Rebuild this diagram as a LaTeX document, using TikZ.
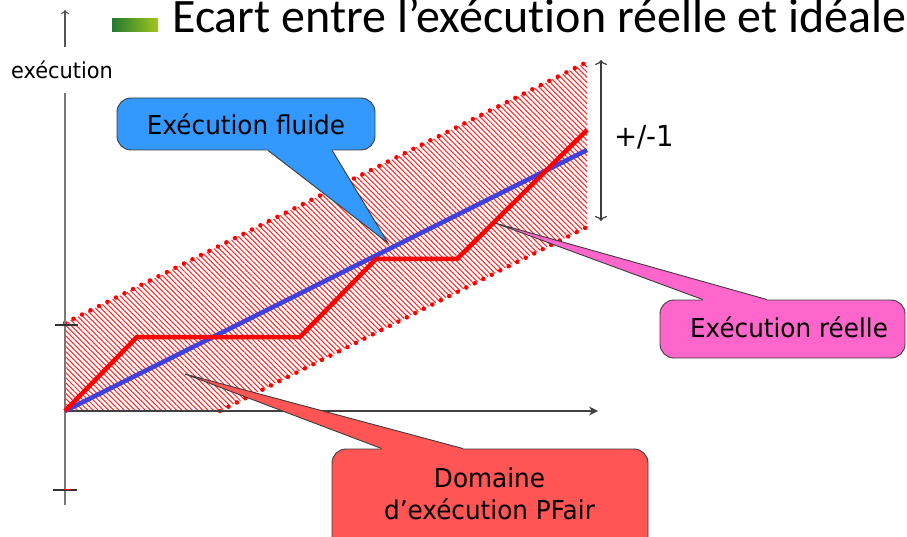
\documentclass[tikz,border=0pt]{standalone}
\usepackage{fontspec}
\setmainfont{Carlito}[Ligatures={NoCommon}]
\newfontfamily\tah[FakeStretch=0.95]{DejaVu Sans}
\usetikzlibrary{patterns.meta,arrows.meta,calc}

\definecolor{barDark}{RGB}{34,122,48}
\definecolor{barLight}{RGB}{160,198,30}
\definecolor{calloutBlue}{RGB}{51,153,255}
\definecolor{calloutPink}{RGB}{255,102,204}
\definecolor{calloutRed}{RGB}{255,85,85}
\definecolor{idealBlue}{RGB}{64,64,220}
\definecolor{edgeGray}{RGB}{60,60,60}
\definecolor{axisGray}{RGB}{120,120,120}
\definecolor{hatchRed}{RGB}{255,40,40}

\tikzset{
  calloutbox/.style={draw=edgeGray, line width=0.9pt, rounded corners=14pt,
                     inner sep=0pt, font=\tah\fontsize{26}{30}\selectfont},
  wedgeedge/.style={draw=edgeGray, line width=0.9pt, line join=miter},
  dotline/.style={draw=red, line width=4.5pt, line cap=round,
                  dash pattern=on 0pt off 9.5pt},
  labeltext/.style={inner sep=0pt, anchor=base, font=\tah\fontsize{26}{30}\selectfont},
}

\begin{document}
\begin{tikzpicture}[x=1pt,y=-1pt]
\useasboundingbox (0,0) rectangle (907,537);
\clip (0,0) rectangle (907,537);

% heading with its gradient bullet
\shade[left color=barDark, right color=barLight] (112,19) rectangle (158,32);
\node[anchor=base west, inner sep=0pt, font=\fontsize{48}{52}\selectfont]
  (title) at (172,33) {Ecart entre l’exécution réelle et idéale};

% PFair domain: hatched band around the ideal line
\fill[pattern={Lines[angle=-45,distance=3.7pt,line width=1.05pt]}, pattern color=hatchRed]
  (65,411) -- (65,323) -- (587,62) -- (587,227) -- (220,411) -- cycle;
\draw[dotline] (65,323) -- (587,62);
\draw[dotline] (220,411) -- (587,227);
\draw[red, line width=1pt, dash pattern=on 1.5pt off 2pt] (65,411) -- (220,411);

% vertical axis
\node[inner sep=0pt, anchor=base, font=\tah\fontsize{22}{26}\selectfont] (ylab) at (62,79) {exécution};
\draw[axisGray!70!black, line width=1.2pt, -{To[length=4pt,width=8pt]}] (65,47) -- (65,10);
\draw[axisGray, line width=2pt] (65,505) -- (65,93);
\draw[black!80, line width=1.5pt] (55,325) -- (78,325);
\draw[black!80, line width=1.5pt] (53,490) -- (77,490);
\draw[red, line width=1.5pt] (64,489.3) -- (71,489.3);

% horizontal axis
\coordinate (origin) at (65,411);
\coordinate (xend) at (598,411);
\draw[black!75, line width=1.6pt, -{Stealth[length=9pt,width=9pt,inset=3pt]}] (origin) -- (xend);

% ideal (fluid) and real execution
\coordinate (idealEnd) at (587,150);
\draw[idealBlue, line width=4.5pt] (origin) -- (idealEnd);
\draw[red, line width=4.5pt, line join=miter]
  (origin) -- (137,337) -- (300,337) -- (376,259) -- (457,259) -- (587,130);

% lag bound
\coordinate (lagTop) at (601,60);
\coordinate (lagBot) at (601,221);
\draw[edgeGray, line width=1.2pt, {To[length=5pt,width=12pt]}-{To[length=5pt,width=12pt]}] (lagTop) -- (lagBot);
\node[inner sep=0pt, anchor=base west, font=\tah\fontsize{29}{32}\selectfont] (lag) at (614,147) {+/-1};

% callout: fluid execution
\node[calloutbox, fill=calloutBlue, minimum width=258pt, minimum height=52pt]
  (fluide) at (246,124) {};
\node[labeltext] (fluidetxt) at (246,135) {Exécution fluide};
\coordinate (fluideTip) at (388,243);
\coordinate (fa) at ($(fluide.south west)!0.585!(fluide.south east)$);
\coordinate (fb) at ($(fluide.south west)!0.833!(fluide.south east)$);
\fill[calloutBlue] (fa) -- (fluideTip) -- (fb) -- ++(0,-3) -- ($(fa)+(0,-3)$) -- cycle;
\draw[wedgeedge] (fa) -- (fluideTip) -- (fb);

% callout: real execution
\node[calloutbox, fill=calloutPink, minimum width=245pt, minimum height=58pt]
  (reelle) at (782.5,329) {};
\node[labeltext] (reelletxt) at (789,337) {Exécution réelle};
\coordinate (reelleTip) at (495,223);
\coordinate (ra) at ($(reelle.north west)!0.176!(reelle.north east)$);
\coordinate (rb) at ($(reelle.north west)!0.437!(reelle.north east)$);
\fill[calloutPink] (ra) -- (reelleTip) -- (rb) -- ++(0,3) -- ($(ra)+(0,3)$) -- cycle;
\draw[wedgeedge] (ra) -- (reelleTip) -- (rb);

% callout: PFair domain
\node[calloutbox, fill=calloutRed, minimum width=316pt, minimum height=112pt]
  (domaine) at (490,505) {};
\node[labeltext] (domaineA) at (489.5,487) {Domaine};
\node[labeltext] (domaineB) at (489.5,519) {d’exécution PFair};
\coordinate (domaineTip) at (185,374);
\coordinate (da) at ($(domaine.north west)!0.158!(domaine.north east)$);
\coordinate (db) at ($(domaine.north west)!0.415!(domaine.north east)$);
\fill[calloutRed] (da) -- (domaineTip) -- (db) -- ++(0,3) -- ($(da)+(0,3)$) -- cycle;
\draw[wedgeedge] (da) -- (domaineTip) -- (db);
\end{tikzpicture}
\end{document}
